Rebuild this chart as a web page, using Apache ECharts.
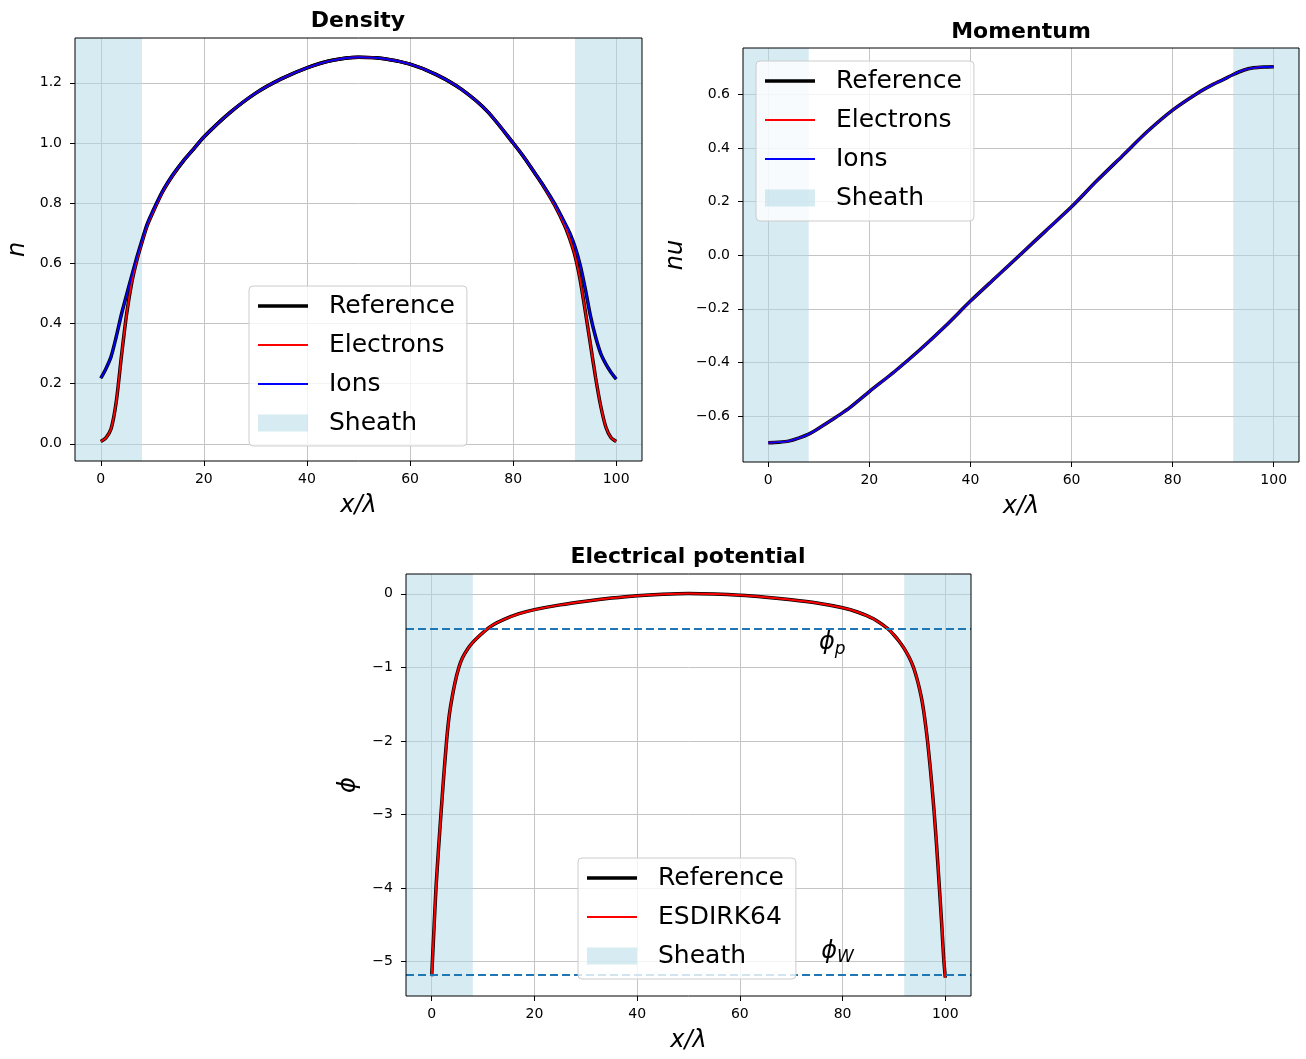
<!DOCTYPE html>
<html><head><meta charset="utf-8">
<script src="https://cdn.jsdelivr.net/npm/echarts@6/dist/echarts.min.js"></script>
<style>html,body{margin:0;padding:0;background:#fff}#c{width:1306px;height:1059px}</style>
</head><body><div id="c"></div>
<script>
// ---------- data ----------
const sheathLeft = [-5, 8];
const sheathRight = [92, 105];

const xTicks = [0, 20, 40, 60, 80, 100];
const densTicks = [0.0, 0.2, 0.4, 0.6, 0.8, 1.0, 1.2];
const momTicks = [-0.6, -0.4, -0.2, 0.0, 0.2, 0.4, 0.6];
const potTicks = [-5, -4, -3, -2, -1, 0];

const densX = [0,1,2,3,4,5,6,7,8,9,10,12,14,16,18,20,25,30,35,40,45,50,55,60,65,70,75,80,82,84,86,88,90,91,92,93,94,95,96,97,98,99,100];
const densIons = [0.218,0.25,0.29,0.356,0.43,0.495,0.558,0.62,0.677,0.73,0.77,0.84,0.895,0.94,0.98,1.02,1.10,1.165,1.213,1.25,1.275,1.285,1.28,1.262,1.228,1.178,1.105,1.0,0.955,0.905,0.855,0.80,0.735,0.70,0.655,0.595,0.515,0.425,0.355,0.30,0.265,0.237,0.215];
const densElectrons = [0.008,0.02,0.05,0.14,0.29,0.43,0.535,0.61,0.67,0.725,0.765,0.838,0.893,0.94,0.98,1.02,1.10,1.165,1.213,1.25,1.275,1.285,1.28,1.262,1.228,1.178,1.105,1.0,0.955,0.905,0.853,0.795,0.725,0.68,0.625,0.545,0.44,0.33,0.22,0.125,0.055,0.02,0.008];

const momX = [0,2,4,6,8,10,12,14,16,20,25,30,35,40,45,50,55,60,65,70,75,80,85,88,90,92,94,96,98,100];
const momNu = [-0.700,-0.698,-0.694,-0.683,-0.668,-0.646,-0.622,-0.597,-0.571,-0.509,-0.434,-0.353,-0.265,-0.171,-0.083,0.005,0.093,0.181,0.278,0.370,0.462,0.542,0.606,0.638,0.656,0.675,0.691,0.700,0.703,0.704];

const potX = [0,0.4,0.84,1.3,1.8,2.3,2.9,3.3,3.7,4.5,5.3,6,7,8,9,10.6,12,14,17,20,25,30,35,40,45,50,55,60,65,70,75,80,83,86,88.9,90,91,92,93,93.8,94.5,95,95.5,96,96.5,97,97.4,97.8,98.3,98.8,99.3,99.7,100];
const potPhi = [-5.2,-4.62,-4.0,-3.5,-3.0,-2.52,-2.0,-1.72,-1.52,-1.22,-1.0,-0.87,-0.75,-0.66,-0.59,-0.49,-0.42,-0.35,-0.27,-0.215,-0.15,-0.1,-0.058,-0.025,-0.005,0.005,-0.002,-0.018,-0.045,-0.08,-0.125,-0.19,-0.25,-0.34,-0.48,-0.56,-0.645,-0.745,-0.87,-1.0,-1.16,-1.3,-1.47,-1.7,-1.98,-2.32,-2.62,-2.95,-3.42,-3.95,-4.5,-4.98,-5.22];

const phiP = -0.48;
const phiW = -5.18;

const densLegend = ['Reference','Electrons','Ions','Sheath'];
const potLegend = ['Reference','ESDIRK64','Sheath'];

// ---------- helpers ----------
const FONT = 'DejaVu Sans';
const SHEATH = 'rgba(173,216,230,0.5)';
function pairs(xs, ys){ return xs.map((x,i)=>[x, ys[i]]); }
function fmt(ticks, dec){
  return v => {
    if (!ticks.some(t => Math.abs(t - v) < 1e-6)) return '';
    const a = Math.abs(v) < 1e-9 ? 0 : v;
    return (a < 0 ? '\u2212' : '') + Math.abs(a).toFixed(dec);
  };
}
function xAx(gi){
  return { gridIndex: gi, type:'value', min:-5, max:105, splitNumber:5,
    name:'x/λ', nameLocation:'middle', nameGap:33,
    nameTextStyle:{fontFamily:FONT, fontStyle:'italic', fontSize:24, color:'#000'},
    axisLine:{show:false, onZero:false},
    axisTick:{show:true, length:5, lineStyle:{color:'#000'}, customValues:xTicks},
    axisLabel:{fontFamily:FONT, fontSize:14, color:'#000', margin:11, formatter: fmt(xTicks,0), customValues:xTicks},
    splitLine:{show:true, lineStyle:{color:'#c4c4c4', width:1}} };
}
function yAx(gi, name, min, max, split, ticks, dec, gap){
  return { gridIndex: gi, type:'value', min:min, max:max, splitNumber:split,
    name:name, nameLocation:'middle', nameGap:gap, nameRotate:90,
    nameTextStyle:{fontFamily:FONT, fontStyle:'italic', fontSize:24, color:'#000'},
    axisLine:{show:false, onZero:false},
    axisTick:{show:true, length:5, lineStyle:{color:'#000'}, customValues:ticks},
    axisLabel:{fontFamily:FONT, fontSize:14, color:'#000', margin:13, formatter: fmt(ticks,dec), customValues:ticks},
    splitLine:{show:true, lineStyle:{color:'#c4c4c4', width:1}} };
}
const lineIcon = w => 'path://M0,0h0.01v0.01z M0,' + (8.5 - w/2) + 'h50v' + w + 'h-50z M0,17h0.01v-0.01z';
function legendItems(names){
  return names.map(n => {
    if (n === 'Sheath') return {name:n, icon:'rect', itemStyle:{color:SHEATH}};
    if (n === 'Reference') return {name:n, icon:lineIcon(3.5), itemStyle:{color:'#000'}};
    if (n === 'Ions') return {name:n, icon:lineIcon(2), itemStyle:{color:'#0000ff'}};
    return {name:n, icon:lineIcon(2), itemStyle:{color:'#ff0000'}};
  });
}
function legend(names, left, top){
  return { data: legendItems(names), left:left, top:top, orient:'vertical',
    itemWidth:50, itemHeight:17, itemGap:9, padding:[5,12,8,9],
    backgroundColor:'rgba(255,255,255,0.8)', borderColor:'#cccccc', borderWidth:1, borderRadius:4,
    itemStyle:{borderWidth:0}, selectedMode:false, z:20,
    textStyle:{fontFamily:FONT, fontSize:25, color:'#000', lineHeight:30, padding:[0,0,0,16]} };
}
function sheathSeries(gi){
  return { name:'Sheath', type:'line', xAxisIndex:gi, yAxisIndex:gi, data:[], color:SHEATH, symbol:'none',
    markArea:{ silent:true, itemStyle:{color:SHEATH},
      data:[[{xAxis:sheathLeft[0]},{xAxis:sheathLeft[1]}],[{xAxis:sheathRight[0]},{xAxis:sheathRight[1]}]] } };
}
function lineSeries(name, gi, xs, ys, color, w){
  return { name:name, type:'line', xAxisIndex:gi, yAxisIndex:gi, data:pairs(xs, ys), symbol:'none',
    smooth:0.25,
    color:color, lineStyle:{color:color, width:w}, z:3 };
}
const titleStyle = {fontFamily:FONT, fontWeight:'bold', fontSize:22, color:'#000'};
const phiRich = {
  a:{fontFamily:FONT, fontStyle:'italic', fontSize:24, color:'#000'},
  b:{fontFamily:FONT, fontStyle:'italic', fontSize:17, color:'#000', padding:[12,0,0,0]}
};
const gridBase = {show:true, borderColor:'#000', borderWidth:1, backgroundColor:'transparent', z:10};

const option = {
  animation:false,
  backgroundColor:'#fff',
  title:[
    {text:'Density', left:358, top:10, textAlign:'center', padding:0, textStyle:titleStyle},
    {text:'Momentum', left:1021, top:21, textAlign:'center', padding:0, textStyle:titleStyle},
    {text:'Electrical potential', left:688, top:546, textAlign:'center', padding:0, textStyle:titleStyle}
  ],
  legend:[
    legend(densLegend, 249, 286),
    legend(densLegend, 756, 61),
    legend(potLegend, 578, 858)
  ],
  grid:[
    Object.assign({left:75, top:38, width:567, height:423}, gridBase),
    Object.assign({left:743, top:48, width:556, height:414}, gridBase),
    Object.assign({left:406, top:574, width:565, height:422}, gridBase)
  ],
  xAxis:[xAx(0), xAx(1), xAx(2)],
  yAxis:[
    yAx(0, 'n', -0.057, 1.349, 7, densTicks, 1, 45),
    yAx(1, 'nu', -0.772, 0.774, 7, momTicks, 1, 55),
    yAx(2, 'ϕ', -5.47, 0.27, 6, potTicks, 0, 45)
  ],
  series:[
    sheathSeries(0),
    lineSeries('Reference', 0, densX, densElectrons, '#000', 3.5),
    lineSeries('Reference', 0, densX, densIons, '#000', 3.5),
    lineSeries('Electrons', 0, densX, densElectrons, '#ff0000', 1.8),
    lineSeries('Ions', 0, densX, densIons, '#0000ff', 1.8),

    sheathSeries(1),
    lineSeries('Reference', 1, momX, momNu, '#000', 3.5),
    lineSeries('Electrons', 1, momX, momNu, '#ff0000', 1.8),
    lineSeries('Ions', 1, momX, momNu, '#0000ff', 1.8),

    sheathSeries(2),
    lineSeries('Reference', 2, potX, potPhi, '#000', 3.5),
    lineSeries('ESDIRK64', 2, potX, potPhi, '#ff0000', 2),
    { name:'phiLines', type:'line', xAxisIndex:2, yAxisIndex:2, data:[], symbol:'none', z:4,
      markLine:{ silent:true, symbol:'none', label:{show:false},
        lineStyle:{color:'#1f77b4', type:[8,4], width:1.8},
        data:[{yAxis:phiP},{yAxis:phiW}] },
      markPoint:{ silent:true, symbol:'circle', symbolSize:0, itemStyle:{color:'transparent'},
        data:[
          {coord:[78, phiP], label:{show:true, position:'inside', offset:[0,14], formatter:'{a|ϕ}{b|p}', rich:phiRich}},
          {coord:[79, phiW], label:{show:true, position:'inside', offset:[0,-23], formatter:'{a|ϕ}{b|W}', rich:phiRich}}
        ] } }
  ]
};
const chart = echarts.init(document.getElementById('c'), null, {renderer:'canvas'});
chart.setOption(option);
</script></body></html>
